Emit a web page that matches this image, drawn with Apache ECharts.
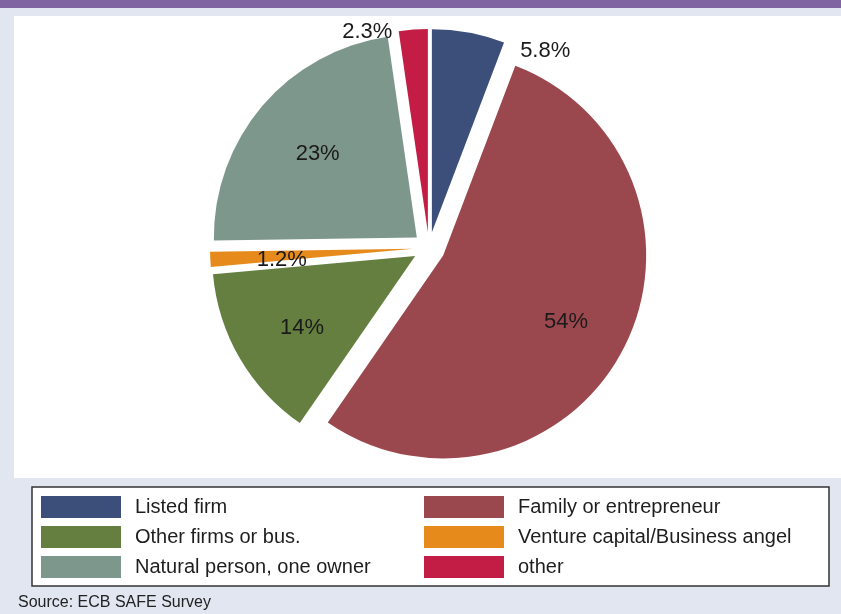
<!DOCTYPE html>
<html>
<head>
<meta charset="utf-8">
<script src="https://cdn.jsdelivr.net/npm/echarts@6/dist/echarts.min.js"></script>
<style>
  html, body { margin: 0; padding: 0; background: #e1e6f1; }
  #chart { width: 841px; height: 614px; }
</style>
</head>
<body>
<div id="chart"></div>
<script>
// data
const categories = ['Listed firm', 'Family or entrepreneur', 'Other firms or bus.',
  'Venture capital/Business angel', 'Natural person, one owner', 'other']
const shares = [5.8, 54, 14, 1.2, 23, 2.3]
const colors = ['#3c4f7a', '#9a484e', '#647f3f', '#e68a1c', '#7e978d', '#c41d45']
const legendLeft = ['Listed firm', 'Other firms or bus.', 'Natural person, one owner']
const legendRight = ['Family or entrepreneur', 'Venture capital/Business angel', 'other']

// pie geometry
const cx = 429, cy = 248, R = 203, explode = 16
// small slices get their label outside: [labelLine length, length2]
const outsideLabels = { 'Listed firm': [0, 50], 'other': [17, 16] }
const outsideR = 184

const labelFont = {
  fontFamily: 'Liberation Sans, Arial, sans-serif',
  fontSize: 22,
  color: '#1a1a1a',
}

// visible slices, no labels
const pieData = categories.map((name, i) => ({
  name,
  value: shares[i],
  selected: true,
  itemStyle: { color: colors[i] },
}))

// invisible copies that only carry the labels
const innerLabelData = categories.map((name, i) => ({
  name,
  value: shares[i],
  selected: true,
  label: { show: !outsideLabels[name] },
}))
const outerLabelData = categories.map((name, i) => {
  const o = outsideLabels[name]
  return {
    name,
    value: shares[i],
    selected: true,
    label: { show: !!o },
    labelLine: o ? { length: o[0], length2: o[1] } : {},
  }
})

const pieCommon = {
  type: 'pie',
  center: [cx, cy],
  startAngle: 90,
  clockwise: true,
  selectedMode: 'multiple',
  selectedOffset: explode,
  avoidLabelOverlap: false,
  silent: true,
  emphasis: { disabled: true },
  labelLine: { show: false },
}

const chart = echarts.init(document.getElementById('chart'))
const legendCommon = {
  orient: 'vertical',
  top: 496,
  padding: 0,
  icon: 'rect',
  itemWidth: 80,
  itemHeight: 22,
  itemGap: 8,
  selectedMode: false,
  textStyle: {
    fontFamily: 'Liberation Sans, Arial, sans-serif',
    fontSize: 20,
    color: '#1e1e1e',
    padding: [0, 0, 0, 9],
  },
}
chart.setOption({
  backgroundColor: '#e1e6f1',
  animation: false,
  color: colors,
  title: {
    text: 'Source: ECB SAFE Survey',
    left: 18,
    top: 595,
    padding: 0,
    textStyle: {
      fontFamily: 'Liberation Sans, Arial, sans-serif',
      fontSize: 16,
      fontWeight: 'normal',
      color: '#222',
    },
  },
  graphic: [
    { type: 'rect', shape: { x: 0, y: 0, width: 841, height: 8 }, style: { fill: '#8064a2' }, silent: true },
    { type: 'rect', shape: { x: 14, y: 16, width: 827, height: 462 }, style: { fill: '#ffffff' }, silent: true },
    { type: 'rect', shape: { x: 32, y: 487, width: 797, height: 99 },
      style: { fill: '#ffffff', stroke: '#333', lineWidth: 1.5 }, silent: true },
  ],
  legend: [
    Object.assign({ left: 41, data: legendLeft }, legendCommon),
    Object.assign({ left: 424, data: legendRight }, legendCommon),
  ],
  series: [
    Object.assign({}, pieCommon, {
      name: 'slices',
      radius: [0, R],
      itemStyle: { borderWidth: 0 },
      label: { show: false },
      data: pieData,
    }),
    Object.assign({}, pieCommon, {
      name: 'inner labels',
      radius: [0.3 * R, R],
      z: 3,
      itemStyle: { color: 'rgba(0,0,0,0)', borderWidth: 0 },
      label: Object.assign({
        position: 'inside',
        formatter: '{p|{c}%}',
        padding: [0, 0, 0, 7],
        rich: { p: Object.assign({ padding: [8, 0, 0, 0] }, labelFont) },
      }, labelFont),
      data: innerLabelData,
    }),
    Object.assign({}, pieCommon, {
      name: 'outer labels',
      radius: [0, outsideR],
      z: 3,
      itemStyle: { color: 'rgba(0,0,0,0)', borderWidth: 0 },
      label: Object.assign({ position: 'outside', formatter: '{c}%' }, labelFont),
      data: outerLabelData,
    }),
  ],
})
</script>
</body>
</html>
